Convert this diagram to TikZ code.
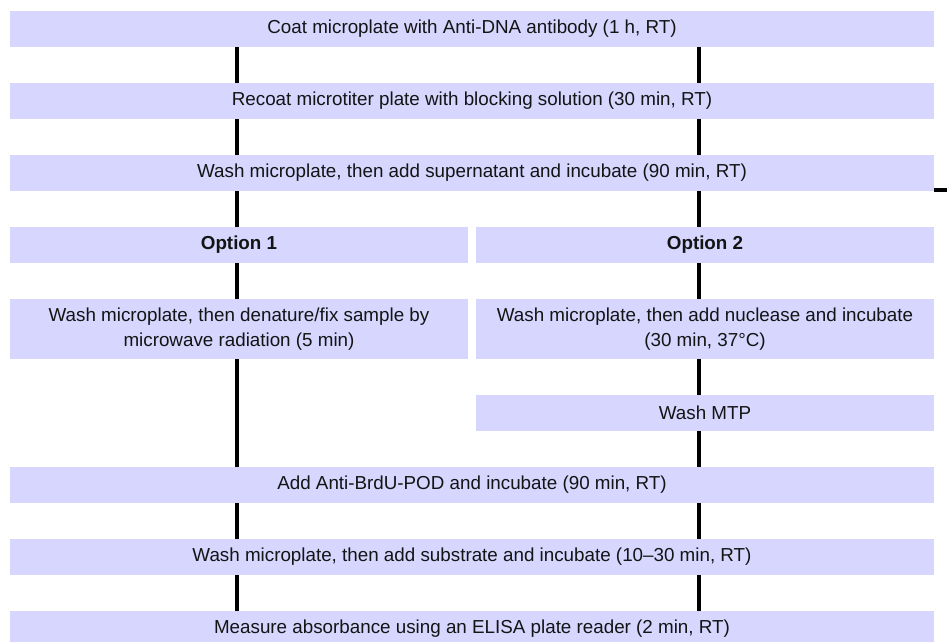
\documentclass[tikz,border=0pt]{standalone}
\usepackage{fontspec}
\setmainfont{Liberation Sans}
\definecolor{boxfill}{RGB}{214,214,255}
\definecolor{txt}{RGB}{20,20,20}
\begin{document}
\begin{tikzpicture}[x=1pt,y=-1pt,
  stepbox/.style={rectangle,fill=boxfill,draw=none,inner sep=0pt,text=txt,align=center,
    font=\fontsize{18.8}{25}\selectfont},
  full/.style={stepbox,minimum width=924pt,minimum height=36pt},
  half/.style={stepbox,minimum width=458pt,minimum height=36pt},
  link/.style={line width=3.5pt,black}]
\useasboundingbox (0,0) rectangle (947,641);
\clip (0,0) rectangle (947,641);
\coordinate (L) at (237,0);
\coordinate (R) at (699,0);
\node[full] (b1) at (472,29) {Coat microplate with Anti-DNA antibody (1 h, RT)};
\node[full] (b2) at (472,101) {Recoat microtiter plate with blocking solution (30 min, RT)};
\node[full] (b3) at (472,173) {Wash microplate, then add supernatant and incubate (90 min, RT)};
\node[half,font=\fontsize{18.8}{25}\selectfont\bfseries] (o1) at (239,245) {Option 1};
\node[half,font=\fontsize{18.8}{25}\selectfont\bfseries] (o2) at (705,245) {Option 2};
\node[half,minimum height=60pt] (w1) at (239,329) {Wash microplate, then denature/fix sample by\\microwave radiation (5 min)};
\node[half,minimum height=60pt] (w2) at (705,329) {Wash microplate, then add nuclease and incubate\\(30 min, 37°C)};
\node[half] (mtp) at (705,413) {Wash MTP};
\node[full] (b4) at (472,485) {Add Anti-BrdU-POD and incubate (90 min, RT)};
\node[full] (b5) at (472,557) {Wash microplate, then add substrate and incubate (10–30 min, RT)};
\node[full] (b6) at (472,629) {Measure absorbance using an ELISA plate reader (2 min, RT)};
\coordinate (stub) at (947,190);
\draw[link] (b1.south -| L) -- (b2.north -| L);
\draw[link] (b1.south -| R) -- (b2.north -| R);
\draw[link] (b2.south -| L) -- (b3.north -| L);
\draw[link] (b2.south -| R) -- (b3.north -| R);
\draw[link] (b3.south -| L) -- (o1.north -| L);
\draw[link] (b3.south -| R) -- (o2.north -| R);
\draw[link] (o1.south -| L) -- (w1.north -| L);
\draw[link] (o2.south -| R) -- (w2.north -| R);
\draw[link] (w1.south -| L) -- (b4.north -| L);
\draw[link] (w2.south -| R) -- (mtp.north -| R);
\draw[link] (mtp.south -| R) -- (b4.north -| R);
\draw[link] (b4.south -| L) -- (b5.north -| L);
\draw[link] (b4.south -| R) -- (b5.north -| R);
\draw[link] (b5.south -| L) -- (b6.north -| L);
\draw[link] (b5.south -| R) -- (b6.north -| R);
\draw[link] (b3.east |- stub) -- (stub);
\end{tikzpicture}
\end{document}
